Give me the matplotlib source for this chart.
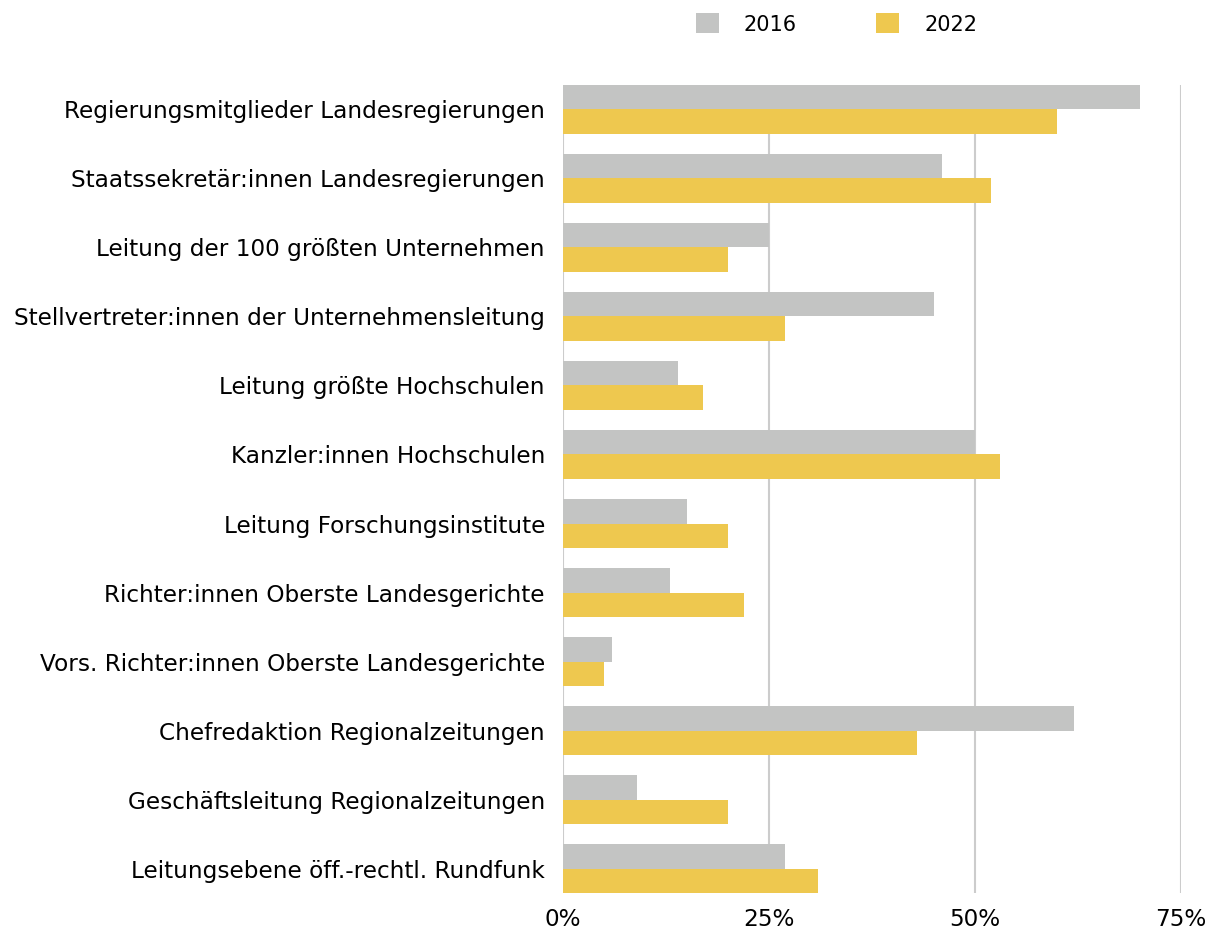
import numpy as np
import matplotlib.pyplot as plt
from matplotlib.patches import Patch
from matplotlib.ticker import FuncFormatter

categories = [
    "Regierungsmitglieder Landesregierungen",
    "Staatssekretär:innen Landesregierungen",
    "Leitung der 100 größten Unternehmen",
    "Stellvertreter:innen der Unternehmensleitung",
    "Leitung größte Hochschulen",
    "Kanzler:innen Hochschulen",
    "Leitung Forschungsinstitute",
    "Richter:innen Oberste Landesgerichte",
    "Vors. Richter:innen Oberste Landesgerichte",
    "Chefredaktion Regionalzeitungen",
    "Geschäftsleitung Regionalzeitungen",
    "Leitungsebene öff.-rechtl. Rundfunk",
]
values_2016 = [70, 46, 25, 45, 14, 50, 15, 13, 6, 62, 9, 27]
values_2022 = [60, 52, 20, 27, 17, 53, 20, 22, 5, 43, 20, 31]
series_labels = ["2016", "2022"]
x_ticks = [0, 25, 50, 75]

grey = "#c3c4c3"
yellow = "#eec84f"

plt.rcParams['font.family'] = ['DejaVu Sans']

fig = plt.figure(figsize=(12.14, 9.30), dpi=100)
ax = fig.add_axes([563 / 1214, (930 - 893) / 930, (1181 - 563) / 1214, (893 - 85) / 930])

y = np.arange(len(categories))
h = 0.35
ax.barh(y - h / 2, values_2016, height=h, color=grey, zorder=2)
ax.barh(y + h / 2, values_2022, height=h, color=yellow, zorder=2)

ax.set_xlim(0, 75)
ax.set_ylim(len(categories) - 1 + 0.355, -0.355)
ax.set_xticks(x_ticks)
ax.xaxis.set_major_formatter(FuncFormatter(lambda v, p: f"{v:.0f}%"))
ax.set_yticks(y)
ax.set_yticklabels(categories)
ax.tick_params(axis='both', length=0, labelsize=16.7, colors='black')
ax.tick_params(axis='y', pad=13)
ax.tick_params(axis='x', pad=11)
ax.grid(axis='x', color='#cccccc', linewidth=1.5, zorder=0)
for s in ax.spines.values():
    s.set_visible(False)

handles = [Patch(facecolor=grey, edgecolor='none'), Patch(facecolor=yellow, edgecolor='none')]
fig.legend(handles, series_labels, loc='center', bbox_to_anchor=(0.689, 1 - 24 / 930),
           ncol=2, frameon=False, fontsize=15, handlelength=1.1, handleheight=1.1,
           handletextpad=1.2, columnspacing=3.8)

fig.savefig("out.png", dpi=100)
